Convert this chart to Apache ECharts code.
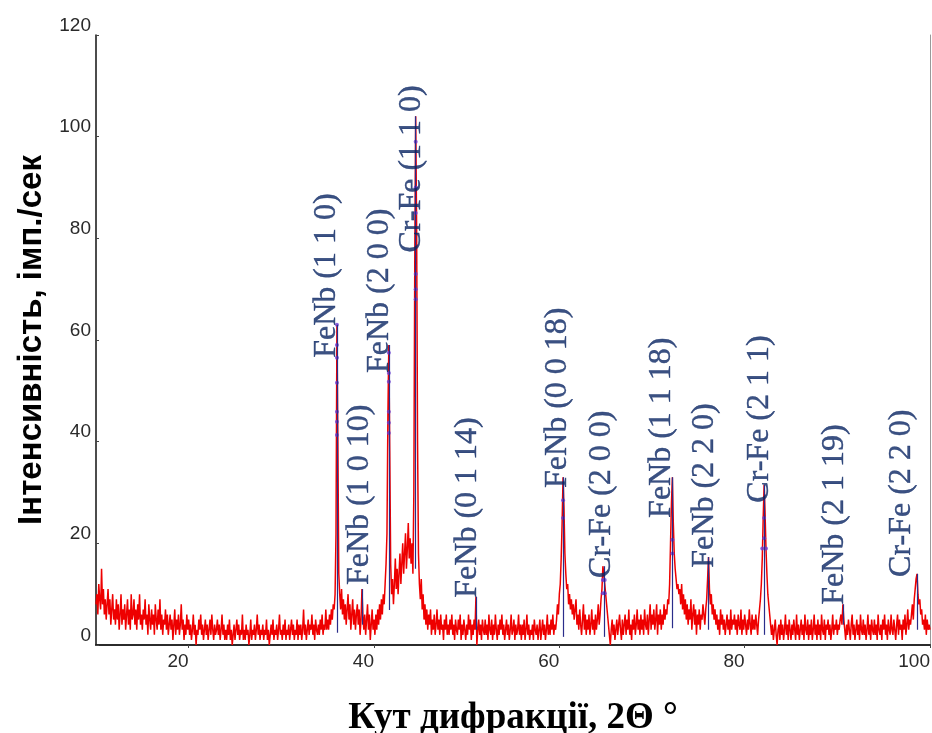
<!DOCTYPE html>
<html>
<head>
<meta charset="utf-8">
<script src="https://cdn.jsdelivr.net/npm/echarts@6/dist/echarts.min.js"></script>
<style>
html,body{margin:0;padding:0;background:#fff;}
#chart{width:932px;height:733px;}
</style>
</head>
<body>
<div id="chart"></div>
<script>
// Diffraction angle grid: each row holds intensities at deg.0 ... deg.9 (step 0.1°)
const firstDegree = 10;
const angleStep = 0.1;
const intensityRows = [
  [8, 10, 6, 12, 9, 7, 15, 8, 11, 6],        // 10
  [9, 5, 8, 11, 6, 9, 4, 7, 10, 5],          // 11
  [7, 4, 9, 5, 8, 3, 6, 10, 4, 7],           // 12
  [5, 8, 3, 6, 9, 4, 7, 3, 10, 5],           // 13
  [6, 9, 4, 7, 3, 8, 5, 10, 4, 6],           // 14
  [3, 7, 5, 9, 4, 6, 2, 8, 5, 3],            // 15
  [7, 4, 6, 2, 8, 5, 3, 7, 4, 9],            // 16
  [3, 6, 2, 5, 4, 7, 3, 6, 2, 4],            // 17
  [6, 3, 5, 1, 4, 7, 2, 5, 3, 6],            // 18
  [2, 4, 8, 3, 5, 1, 4, 2, 6, 3],            // 19
  [5, 2, 4, 1, 3, 6, 2, 4, 0, 3],            // 20
  [2, 5, 3, 6, 2, 4, 1, 3, 5, 2],            // 21
  [4, 1, 3, 5, 2, 6, 3, 1, 4, 2],            // 22
  [3, 5, 2, 4, 1, 3, 6, 2, 4, 1],            // 23
  [3, 1, 4, 2, 5, 1, 3, 0, 2, 4],            // 24
  [1, 3, 5, 2, 4, 1, 3, 2, 6, 1],            // 25
  [3, 1, 4, 2, 3, 0, 2, 5, 1, 3],            // 26
  [2, 4, 1, 3, 6, 2, 4, 1, 3, 2],            // 27
  [4, 1, 3, 2, 5, 1, 3, 0, 2, 4],            // 28
  [2, 5, 1, 3, 2, 4, 1, 3, 6, 2],            // 29
  [3, 1, 4, 2, 5, 1, 3, 2, 4, 1],            // 30
  [3, 5, 2, 4, 1, 3, 2, 5, 1, 4],            // 31
  [2, 4, 1, 3, 7, 2, 4, 1, 3, 5],            // 32
  [2, 4, 3, 6, 2, 4, 1, 5, 3, 2],            // 33
  [4, 2, 5, 3, 6, 2, 4, 3, 7, 3],            // 34
  [5, 3, 6, 4, 7, 5, 8, 7, 10, 22],          // 35
  [63, 40, 14, 10, 7, 11, 6, 9, 5, 8],       // 36
  [4, 7, 10, 5, 8, 3, 6, 9, 4, 7],           // 37
  [3, 6, 8, 4, 7, 2, 5, 11, 6, 3],           // 38
  [6, 2, 5, 8, 3, 6, 1, 4, 7, 3],            // 39
  [5, 2, 6, 3, 7, 4, 8, 5, 9, 6],            // 40
  [10, 8, 12, 16, 22, 45, 59, 38, 16, 10],   // 41
  [13, 8, 12, 17, 11, 15, 10, 14, 18, 12],   // 42
  [16, 20, 14, 18, 22, 15, 19, 24, 17, 21],  // 43
  [16, 20, 14, 30, 75, 104, 82, 40, 18, 12], // 44
  [9, 13, 7, 10, 5, 8, 4, 7, 3, 6],          // 45
  [4, 7, 2, 5, 3, 6, 2, 4, 7, 3],            // 46
  [5, 2, 6, 3, 4, 1, 5, 3, 6, 2],            // 47
  [4, 2, 5, 3, 6, 2, 4, 1, 5, 3],            // 48
  [2, 5, 3, 6, 1, 4, 2, 5, 3, 1],            // 49
  [4, 2, 6, 3, 5, 1, 4, 2, 5, 3],            // 50
  [9.5, 0, 3, 5, 2, 4, 1, 5, 3, 2],          // 51
  [5, 2, 4, 1, 6, 3, 2, 5, 1, 4],            // 52
  [2, 6, 3, 1, 4, 2, 5, 3, 6, 2],            // 53
  [4, 1, 3, 5, 2, 4, 1, 3, 6, 2],            // 54
  [3, 5, 1, 4, 2, 3, 6, 2, 4, 1],            // 55
  [4, 2, 5, 1, 3, 6, 2, 4, 1, 3],            // 56
  [2, 4, 1, 5, 3, 2, 4, 1, 3, 5],            // 57
  [1, 3, 5, 2, 4, 1, 3, 6, 2, 4],            // 58
  [2, 5, 3, 6, 2, 4, 3, 5, 8, 6],            // 59
  [10, 12, 17, 24, 33, 27, 18, 14, 11, 12],  // 60
  [8, 10, 7, 9, 6, 8, 5, 7, 9, 4],           // 61
  [6, 3, 7, 4, 2, 5, 8, 3, 6, 2],            // 62
  [5, 3, 6, 2, 4, 7, 3, 5, 2, 6],            // 63
  [3, 5, 8, 4, 6, 9, 11, 15.5, 14, 12],      // 64
  [10, 8, 6, 4, 2, 0, 3, 5, 2, 4],           // 65
  [1, 3, 5, 2, 4, 6, 3, 1, 5, 2],            // 66
  [4, 6, 2, 5, 3, 7, 2, 4, 1, 5],            // 67
  [3, 6, 2, 4, 7, 3, 5, 2, 6, 3],            // 68
  [5, 2, 7, 4, 3, 6, 2, 5, 8, 3],            // 69
  [6, 4, 7, 3, 5, 8, 2, 6, 4, 7],            // 70
  [3, 6, 4, 8, 5, 7, 6, 9, 8, 12],           // 71
  [20, 28, 33, 24, 18, 15, 13, 11, 12, 10],  // 72
  [11, 8, 12, 7, 10, 6, 9, 5, 8, 4],         // 73
  [7, 5, 9, 3, 6, 8, 4, 7, 2, 6],            // 74
  [4, 7, 3, 6, 5, 8, 6, 4, 7, 9],            // 75
  [13, 17.3, 11, 8, 10, 6, 8, 5, 7, 4],      // 76
  [6, 3, 5, 2, 7, 4, 6, 3, 5, 2],            // 77
  [4, 6, 3, 5, 2, 7, 3, 5, 4, 6],            // 78
  [3, 5, 2, 6, 4, 3, 7, 2, 5, 3],            // 79
  [6, 4, 2, 5, 3, 7, 4, 2, 6, 3],            // 80
  [5, 3, 6, 4, 2, 5, 7, 9, 12, 17],          // 81
  [25, 31.5, 26, 19, 14, 10, 8, 6, 4, 2],    // 82
  [4, 1, 3, 5, 2, 0, 3, 4, 1, 5],            // 83
  [2, 4, 1, 3, 6, 2, 4, 1, 5, 3],            // 84
  [1, 4, 2, 5, 3, 1, 6, 2, 4, 1],            // 85
  [3, 5, 2, 4, 1, 6, 3, 2, 5, 1],            // 86
  [4, 2, 5, 1, 3, 6, 2, 4, 1, 5],            // 87
  [2, 4, 1, 6, 3, 2, 5, 1, 4, 3],            // 88
  [5, 2, 4, 1, 3, 6, 2, 4, 3, 5],            // 89
  [2, 4, 3, 5, 6, 4, 8, 5, 3, 1],            // 90
  [4, 2, 5, 3, 1, 4, 6, 2, 4, 1],            // 91
  [3, 5, 2, 4, 1, 6, 3, 2, 5, 2],            // 92
  [4, 1, 3, 6, 2, 4, 1, 5, 3, 2],            // 93
  [5, 2, 4, 1, 6, 3, 2, 4, 1, 5],            // 94
  [3, 6, 2, 4, 1, 5, 3, 2, 6, 3],            // 95
  [2, 5, 3, 1, 4, 6, 2, 5, 3, 4],            // 96
  [1, 5, 3, 6, 2, 4, 7, 3, 5, 4],            // 97
  [6, 8, 5, 9, 11, 13, 14, 10, 8, 9],        // 98
  [6, 7, 4, 5, 3, 6, 2, 5, 3, 4],            // 99
  [3]                                        // 100
];

// Fitted peak sticks (navy vertical lines)
const stickAngle  = [36.0, 38.7, 41.6, 44.5, 51.0, 60.4, 64.8, 72.2, 76.1, 82.1, 90.6, 98.6];
const stickBottom = [2.4, 4, 6.9, 15, 3, 1.6, 1.6, 3.3, 3, 2, 4, 3];
const stickTop    = [63, 11, 59, 104, 9.5, 33, 15.5, 33, 17.3, 31.5, 8, 14];

// Fit marker dots
const dotAngle = [36.0, 36.0, 36.0, 36.0, 36.0, 36.0, 36.0,
                  41.6, 41.6, 41.6, 41.6, 41.6, 41.6,
                  44.5, 44.5, 44.5, 44.5, 44.5, 44.5,
                  60.4, 60.4, 64.7, 64.9, 64.7, 64.9,
                  72.2, 72.2, 82.1, 82.1, 81.9, 82.3];
const dotValue = [63, 59, 56.5, 51.6, 45.9, 43.9, 41.3,
                  57.5, 53.5, 51.8, 45.9, 43.7, 41.7,
                  99, 90, 85, 73, 70, 68,
                  28.5, 25, 12.8, 12.8, 10.2, 10.2,
                  20.7, 18, 25, 21, 19, 19];

// Peak annotations (anchor = start of rotated text)
const labelText  = ['FeNb (1 1 0)', 'FeNb (1 0 10)', 'FeNb (2 0 0)', 'Cr-Fe (1 1 0)', 'FeNb (0 1 14)', 'FeNb (0 0 18)',
                    'Cr-Fe (2 0 0)', 'FeNb (1 1 18)', 'FeNb (2 2 0)', 'Cr-Fe (2 1 1)', 'FeNb (2 1 19)', 'Cr-Fe (2 2 0)'];
const labelAngle = [34.92, 38.48, 40.64, 44.09, 50.13, 59.84, 64.58, 71.06, 75.7, 81.63, 89.72, 96.95];
const labelBase  = [56.5, 11.8, 53.5, 77.2, 9.3, 30.9, 13.2, 25, 15.2, 28, 7.9, 13.4];

const xTickValues = [20, 40, 60, 80, 100];

const spectrum = [];
intensityRows.forEach((row, r) => {
  row.forEach((v, j) => {
    spectrum.push([+(firstDegree + r + j * angleStep).toFixed(1), v]);
  });
});

const stickLines = stickAngle.map((a, i) => [{coord: [a, stickBottom[i]]}, {coord: [a, stickTop[i]]}]);
const dots = dotAngle.map((a, i) => [a, dotValue[i]]);
const labels = labelText.map((t, i) => [labelAngle[i], labelBase[i], t]);

const chart = echarts.init(document.getElementById('chart'), null, {renderer: 'canvas'});
chart.setOption({
  animation: false,
  backgroundColor: '#fff',
  grid: {left: 96, right: 2, top: 35, bottom: 88, outerBoundsMode: 'none', containLabel: false},
  xAxis: [{
    type: 'value', min: 10, max: 100,
    name: 'Кут дифракції, 2Θ °',
    nameLocation: 'middle', nameGap: 55,
    nameTextStyle: {fontFamily: 'Liberation Serif', fontWeight: 'bold', fontSize: 37, color: '#000'},
    axisLine: {lineStyle: {color: '#111', width: 1.5}},
    axisTick: {show: true, length: 3, customValues: xTickValues, lineStyle: {color: '#444'}},
    axisLabel: {customValues: xTickValues, align: 'right', margin: 7, fontFamily: 'Liberation Sans', fontSize: 19, color: '#2a2a2a'},
    splitLine: {show: false}
  }, {
    type: 'value', min: 10, max: 100, position: 'top',
    axisLine: {show: true, lineStyle: {color: '#222', width: 1.5}},
    axisTick: {show: false}, axisLabel: {show: false}, splitLine: {show: false}
  }],
  yAxis: [{
    type: 'value', min: 0, max: 120, interval: 20,
    name: 'Інтенсивність, імп./сек',
    nameLocation: 'middle', nameGap: 42,
    nameTextStyle: {fontFamily: 'Liberation Sans', fontWeight: 'bold', fontSize: 33, color: '#000'},
    axisLine: {show: true, lineStyle: {color: '#111', width: 1.5}},
    axisTick: {show: true, inside: true, length: 3, lineStyle: {color: '#444'}},
    axisLabel: {verticalAlign: 'bottom', margin: 5, fontFamily: 'Liberation Sans', fontSize: 19, color: '#2a2a2a'},
    splitLine: {show: false}
  }, {
    type: 'value', min: 0, max: 120, position: 'right',
    axisLine: {show: true, lineStyle: {color: '#999', width: 1}},
    axisTick: {show: false}, axisLabel: {show: false}, splitLine: {show: false}
  }],
  series: [{
    type: 'line',
    data: spectrum,
    showSymbol: false,
    lineStyle: {color: '#ee0000', width: 1.5},
    z: 2,
    markLine: {
      silent: true, symbol: ['none', 'none'],
      lineStyle: {color: '#2a2d8a', width: 1.2, type: 'solid'},
      label: {show: false},
      data: stickLines
    }
  }, {
    type: 'scatter',
    data: dots,
    symbolSize: 4,
    itemStyle: {color: '#6a3cd6'},
    z: 3
  }, {
    type: 'scatter',
    data: labels,
    symbolSize: 1,
    itemStyle: {color: 'transparent'},
    z: 5,
    label: {
      show: true,
      formatter: p => p.data[2],
      position: 'inside',
      rotate: 90,
      align: 'left',
      verticalAlign: 'middle',
      fontFamily: 'Liberation Serif',
      fontSize: 32,
      color: '#0a2563',
      textBorderColor: '#0a2563',
      textBorderWidth: 0.4
    }
  }]
});
</script>
</body>
</html>
